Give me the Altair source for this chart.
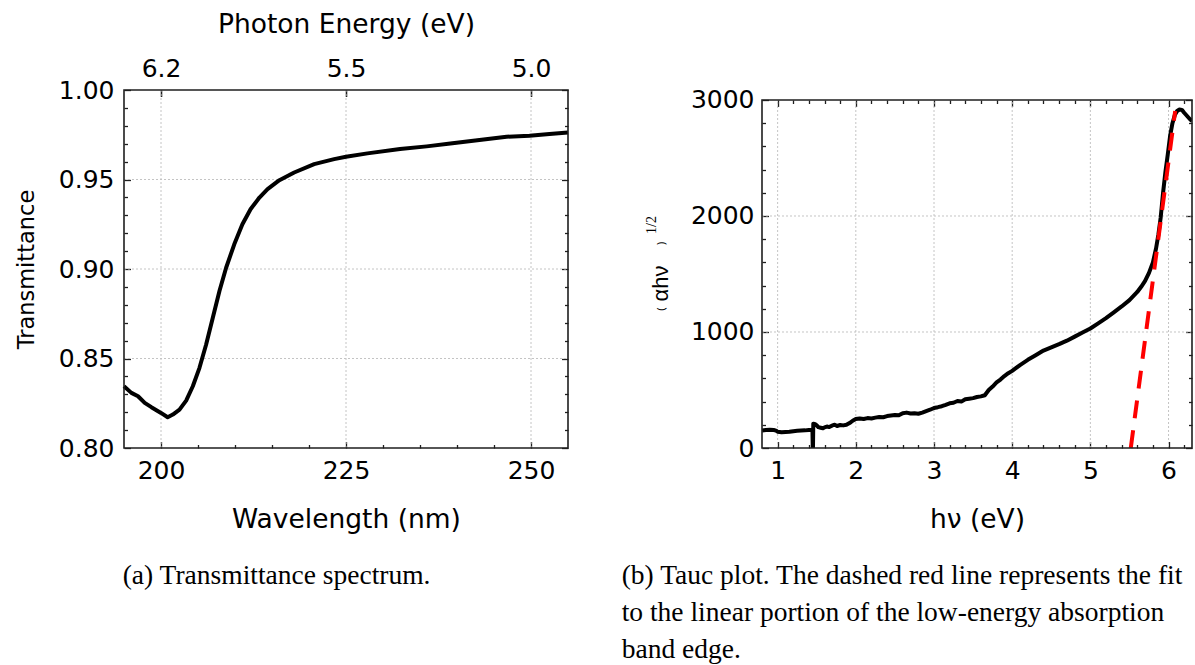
import altair as alt
import pandas as pd

# ---------------- data ----------------
# (a) transmittance spectrum
wavelength_nm = [195.0, 196.0, 196.9, 197.8, 198.7, 200.0, 200.9, 201.6, 202.5, 203.4,
                 204.3, 205.2, 206.1, 207.0, 207.9, 208.8, 209.9, 211.0, 212.1, 213.3,
                 214.4, 216.0, 218.0, 220.7, 223.4, 225.0, 227.9, 232.3, 235.9, 239.1,
                 243.6, 246.7, 249.8, 252.5, 255.0]
transmittance = [0.8345, 0.8308, 0.8289, 0.8252, 0.8228, 0.8196, 0.8172, 0.8187, 0.8214, 0.8265,
                 0.8345, 0.8448, 0.8578, 0.8728, 0.8877, 0.9007, 0.9138, 0.9250, 0.9334, 0.9399,
                 0.9446, 0.9496, 0.9539, 0.9586, 0.9614, 0.9627, 0.9646, 0.9670, 0.9685, 0.9701,
                 0.9724, 0.9739, 0.9744, 0.9754, 0.9763]

# (b) Tauc plot
tauc_ev = [0.80, 0.85, 0.90, 0.95, 0.98, 1.00, 1.05, 1.10, 1.15, 1.20, 1.25, 1.30, 1.35, 1.40,
           1.445, 1.449, 1.452, 1.456,
           1.48, 1.50, 1.52, 1.55, 1.58, 1.60, 1.63, 1.66, 1.70, 1.73, 1.76, 1.80, 1.84, 1.88, 1.92, 1.96,
           2.00, 2.05, 2.10, 2.15, 2.20, 2.25, 2.30, 2.35, 2.40, 2.45,
           2.50, 2.55, 2.60, 2.65, 2.70, 2.75, 2.80, 2.85, 2.90, 2.95,
           3.00, 3.05, 3.10, 3.15, 3.20, 3.25, 3.30, 3.35, 3.40, 3.45,
           3.50, 3.55, 3.60, 3.65, 3.70, 3.75, 3.80, 3.85, 3.90, 3.95,
           4.00, 4.10, 4.20, 4.30, 4.40, 4.50, 4.60, 4.70, 4.80, 4.90, 5.00, 5.10, 5.20, 5.30,
           5.40, 5.50, 5.60,
           5.65, 5.70, 5.75, 5.80,
           5.84, 5.87, 5.90, 5.93, 5.96, 5.99, 6.02, 6.05, 6.08, 6.11, 6.14, 6.17, 6.20,
           6.24, 6.28, 6.30]
tauc_val = [150, 155, 158, 155, 150, 140, 135, 138, 140, 145, 148, 150, 152, 155,
            158, 5, 5, 210,
            205, 195, 180, 175, 170, 178, 185, 180, 195, 200, 190, 198, 195, 200, 215, 235,
            250, 255, 250, 258, 255, 262, 268, 265, 275, 280,
            285, 282, 300, 305, 298, 300, 295, 305, 318, 330,
            345, 352, 360, 372, 385, 390, 405, 400, 420, 425,
            430, 440, 445, 455, 500, 530, 565, 590, 620, 645,
            665, 715, 760, 800, 840, 868, 895, 925, 960, 995, 1030, 1075, 1120, 1170,
            1220, 1275, 1345,
            1390, 1440, 1510, 1600,
            1720, 1840, 1990, 2200, 2380, 2530, 2690, 2800, 2870, 2905, 2918, 2915, 2890,
            2860, 2830, 2820]
fit_ev = [5.517, 6.085]
fit_val = [0, 2906]

# axis ranges and ticks
wl_domain = [195, 255]
t_domain = [0.80, 1.00]
ev_domain = [0.8, 6.3]
tauc_frame = [0, 3000]
tauc_domain = [0, 3086.2]          # 3000 sits 10 px below the panel top
wl_major = [200, 225, 250]
wl_minor = [205, 210, 215, 220, 230, 235, 240, 245]
t_major = [0.80, 0.85, 0.90, 0.95, 1.00]
t_grid = [0.85, 0.90, 0.95]
t_minor = [0.81, 0.82, 0.83, 0.84, 0.86, 0.87, 0.88, 0.89, 0.91, 0.92, 0.93, 0.94,
           0.96, 0.97, 0.98, 0.99]
ev_major = [1, 2, 3, 4, 5, 6]
ev_minor = [1.2, 1.4, 1.6, 1.8, 2.2, 2.4, 2.6, 2.8, 3.2, 3.4, 3.6, 3.8, 4.2, 4.4, 4.6, 4.8,
            5.2, 5.4, 5.6, 5.8, 6.2]
tauc_major = [0, 1000, 2000, 3000]
tauc_grid = [1000, 2000]
tauc_minor = [200, 400, 600, 800, 1200, 1400, 1600, 1800, 2200, 2400, 2600, 2800]

# texts
title_wl = "Wavelength (nm)"
title_t = "Transmittance"
title_energy_top = "Photon Energy (eV)"
title_hv = "hν (eV)"
ytitle_parts = ["(", "αhν", ")", "1/2"]
caption_a = "(a) Transmittance spectrum."
caption_b = ["(b) Tauc plot. The dashed red line represents the fit",
             "to the linear portion of the low-energy absorption",
             "band edge."]

# ---------------- style ----------------
FRAME = "#1f1f1f"
GRID = "#c4c4c4"
SANS = "DejaVu Sans"
SERIF = "Liberation Serif"
MAJ, MIN = 6.5, 3.5
W1, W2, H = 444, 430, 358
LABEL_SIZE = 25
TITLE_SIZE = 26.5
CAPTION_SIZE = 27.5


def axis(orient, values, size, offset=None, **kw):
    opts = dict(orient=orient, values=values, tickSize=size,
                offset=(-size if offset is None else offset),
                domain=False, grid=False, ticks=True, tickColor=FRAME, tickWidth=1.3,
                labels=False, title=None, labelFlush=False)
    opts.update(kw)
    return alt.Axis(**opts)


def labels(pad):
    return dict(labels=True, labelFont=SANS, labelFontSize=LABEL_SIZE, labelColor="black",
                labelPadding=pad, labelOverlap=False)


def title(text, x, y, angle=0, size=TITLE_SIZE):
    return dict(title=text, titleFont=SANS, titleFontSize=size, titleFontWeight="normal",
                titleColor="black", titleX=x, titleY=y, titleAngle=angle,
                titleAlign="center", titleBaseline="alphabetic")


one = pd.DataFrame({"k": [0]})


def panel(xs, ys, xlo, xhi, ylo, yhi, xgrid, ygrid, curves, axes_layers, extras, width):
    gx = alt.Chart(pd.DataFrame({"g": xgrid, "lo": ylo, "hi": yhi})).mark_rule(
        color=GRID, strokeDash=[2, 2], strokeWidth=1).encode(
        x=alt.X("g:Q", scale=xs, axis=None),
        y=alt.Y("lo:Q", scale=ys, axis=None), y2="hi:Q")
    gy = alt.Chart(pd.DataFrame({"g": ygrid, "lo": xlo, "hi": xhi})).mark_rule(
        color=GRID, strokeDash=[2, 2], strokeWidth=1).encode(
        y=alt.Y("g:Q", scale=ys, axis=None),
        x=alt.X("lo:Q", scale=xs, axis=None), x2="hi:Q")
    frame = alt.Chart(pd.DataFrame({"x0": [xlo], "x1": [xhi], "y0": [ylo], "y1": [yhi]})).mark_rect(
        fillOpacity=0, stroke=FRAME, strokeWidth=1.6).encode(
        x=alt.X("x0:Q", scale=xs, axis=None), x2="x1:Q",
        y=alt.Y("y0:Q", scale=ys, axis=None), y2="y1:Q")
    ax_layers = []
    fdf = pd.DataFrame({"x0": [xlo], "y0": [ylo]})
    for xa, ya in axes_layers:
        ax_layers.append(alt.Chart(fdf).mark_point(opacity=0).encode(
            x=alt.X("x0:Q", scale=xs, axis=xa),
            y=alt.Y("y0:Q", scale=ys, axis=ya)))
    return alt.layer(gx, gy, *curves, frame, *ax_layers, *extras).resolve_axis(
        x="independent", y="independent").properties(width=width, height=H)


# ---------------- panel (a) ----------------
xs1 = alt.Scale(domain=wl_domain, nice=False, zero=False)
ys1 = alt.Scale(domain=t_domain, nice=False, zero=False)
df_a = pd.DataFrame({"wl": wavelength_nm, "T": transmittance})
curve_a = alt.Chart(df_a).mark_line(color="black", strokeWidth=4, strokeJoin="round").encode(
    x=alt.X("wl:Q", scale=xs1, axis=None), y=alt.Y("T:Q", scale=ys1, axis=None))
axes_a = [
    (axis("bottom", wl_major, MAJ, **labels(10), **title(title_wl, W1 / 2, 85.5)),
     axis("left", t_major, MAJ, **labels(10), format=".2f",
          **title(title_t, -97.3, H / 2, 270, 22.5))),
    (axis("bottom", wl_minor, MIN), axis("left", t_minor, MIN)),
    (axis("top", wl_major, MAJ, **labels(9), labelExpr="format(1240 / datum.value, '.1f')",
          **title(title_energy_top, W1 / 2, -64.5)),
     axis("right", t_major, MAJ)),
    (axis("top", wl_major, MAJ), axis("right", t_minor, MIN)),
]
anchor = alt.Chart(one).mark_point(opacity=0, size=1, filled=True).encode(
    x=alt.value(-122.8), y=alt.value(-88.5))
cap_a = alt.Chart(one).mark_text(text=caption_a, font=SERIF, fontSize=CAPTION_SIZE, align="left",
                                 baseline="alphabetic", color="black").encode(
    x=alt.value(-1.3), y=alt.value(494))
left = panel(xs1, ys1, wl_domain[0], wl_domain[1], t_domain[0], t_domain[1],
             wl_major, t_grid, [curve_a], axes_a, [anchor, cap_a], W1)

# ---------------- panel (b) ----------------
xs2 = alt.Scale(domain=ev_domain, nice=False, zero=False)
ys2 = alt.Scale(domain=tauc_domain, nice=False, zero=False)
df_b = pd.DataFrame({"ev": tauc_ev, "v": tauc_val})
df_fit = pd.DataFrame({"ev": fit_ev, "v": fit_val})
curve_b = alt.Chart(df_b).mark_line(color="black", strokeWidth=4, strokeJoin="round",
                                    clip=True).encode(
    x=alt.X("ev:Q", scale=xs2, axis=None), y=alt.Y("v:Q", scale=ys2, axis=None))
fit_b = alt.Chart(df_fit).mark_line(color="#ff0000", strokeWidth=4, strokeDash=[18, 12]).encode(
    x=alt.X("ev:Q", scale=xs2, axis=None), y=alt.Y("v:Q", scale=ys2, axis=None))
axes_b = [
    (axis("bottom", ev_major, MAJ, **labels(10), format="d", **title(title_hv, W2 / 2, 85.5)),
     axis("left", tauc_major, MAJ, **labels(8), format="d")),
    (axis("bottom", ev_minor, MIN), axis("left", tauc_minor, MIN)),
    (axis("top", ev_major, MAJ, offset=-(10 + MAJ)), axis("right", tauc_major, MAJ)),
    (axis("top", ev_minor, MIN, offset=-(10 + MIN)), axis("right", tauc_minor, MIN)),
]
ytitle = [
    alt.Chart(one).mark_text(text=ytitle_parts[1], font="Liberation Sans", fontSize=22, angle=270,
                             align="center", baseline="alphabetic", color="black").encode(
        x=alt.value(-94.3), y=alt.value(193.5)),
    alt.Chart(one).mark_text(text=ytitle_parts[0], font=SANS, fontSize=11, angle=270,
                             align="center", baseline="middle", color="black").encode(
        x=alt.value(-99.6), y=alt.value(219)),
    alt.Chart(one).mark_text(text=ytitle_parts[2], font=SANS, fontSize=11, angle=270,
                             align="center", baseline="middle", color="black").encode(
        x=alt.value(-99.6), y=alt.value(153.3)),
    alt.Chart(one).mark_text(text=ytitle_parts[3], font=SERIF, fontSize=14, angle=270,
                             align="center", baseline="middle", color="black").encode(
        x=alt.value(-109.8), y=alt.value(135)),
]
cap_b = [
    alt.Chart(one).mark_text(text=line, font=SERIF, fontSize=CAPTION_SIZE, align="left",
                             baseline="alphabetic", color="black", limit=570,
                             ellipsis="").encode(
        x=alt.value(-140.3), y=alt.value(494 + 37 * i))
    for i, line in enumerate(caption_b)
]
right = panel(xs2, ys2, ev_domain[0], ev_domain[1], tauc_frame[0], tauc_frame[1],
              ev_major, tauc_grid, [curve_b, fit_b], axes_b, ytitle + cap_b, W2)

chart = alt.hconcat(left, right, spacing=194, bounds="flush").properties(
    padding={"left": 0, "top": 0, "right": 0, "bottom": 0},
    background="white",
).configure_view(stroke="transparent")

chart.save("out.html", embed_options={"renderer": "svg", "actions": False})
